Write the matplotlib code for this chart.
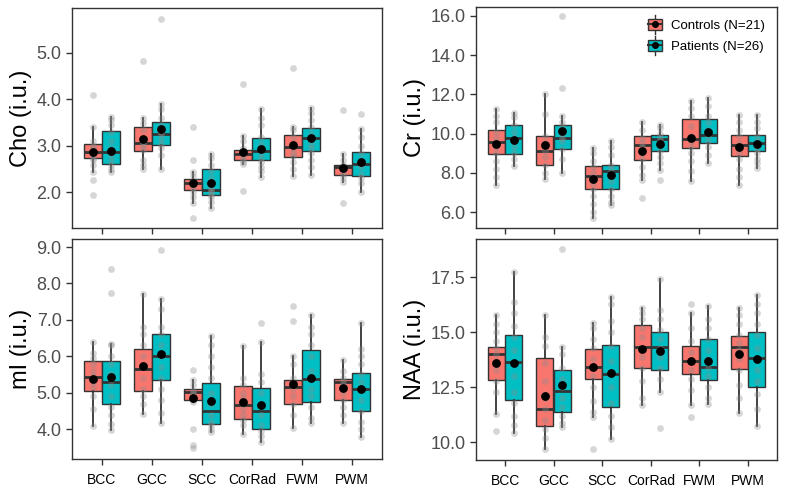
import numpy as np
import matplotlib.pyplot as plt
from matplotlib.patches import Patch, Rectangle
from matplotlib.lines import Line2D
from matplotlib.legend_handler import HandlerBase
from matplotlib.ticker import FormatStrFormatter

plt.rcParams['font.family'] = ['Liberation Sans', 'DejaVu Sans']

regions = ['BCC', 'GCC', 'SCC', 'CorRad', 'FWM', 'PWM']
groups = ['Controls (N=21)', 'Patients (N=26)']
colors = ['#F8766D', '#00BFC4']

# box stats per region: (whisker low, q1, median, q3, whisker high, mean)
cho_ctrl = [(2.44, 2.73, 2.87, 3.05, 3.40, 2.87), (2.51, 2.90, 3.06, 3.40, 3.61, 3.15),
            (1.77, 2.05, 2.21, 2.28, 2.44, 2.21), (2.62, 2.70, 2.83, 2.92, 3.22, 2.87),
            (2.35, 2.77, 2.97, 3.24, 3.40, 3.03), (2.23, 2.37, 2.55, 2.60, 2.83, 2.53)]
cho_pat = [(2.44, 2.62, 2.87, 3.31, 3.63, 2.90), (2.51, 3.02, 3.26, 3.51, 3.91, 3.36),
           (1.66, 1.94, 2.06, 2.51, 2.82, 2.21), (2.33, 2.69, 2.90, 3.17, 3.79, 2.94),
           (2.37, 2.90, 3.17, 3.39, 3.81, 3.17), (2.01, 2.35, 2.62, 2.87, 3.36, 2.65)]
cr_ctrl = [(7.40, 8.98, 9.56, 10.16, 11.23, 9.49), (7.69, 8.38, 9.10, 9.87, 12.00, 9.41),
           (5.69, 7.19, 7.82, 8.37, 9.27, 7.70), (7.65, 8.64, 9.41, 9.87, 10.58, 9.13),
           (7.57, 9.27, 9.70, 10.72, 11.66, 9.78), (7.40, 8.84, 9.41, 9.95, 10.97, 9.30)]
cr_pat = [(8.33, 8.98, 9.78, 10.46, 11.06, 9.66), (7.99, 9.24, 9.78, 10.43, 10.89, 10.12),
          (6.37, 7.19, 8.08, 8.40, 9.61, 7.87), (8.16, 9.10, 9.70, 9.95, 10.46, 9.49),
          (8.50, 9.53, 9.95, 10.75, 11.83, 10.09), (8.25, 9.10, 9.53, 9.92, 10.97, 9.49)]
mi_ctrl = [(4.09, 5.06, 5.43, 5.88, 6.40, 5.38), (4.41, 5.06, 5.64, 6.20, 7.70, 5.73),
           (4.75, 4.79, 5.02, 5.09, 5.36, 4.86), (3.86, 4.27, 4.66, 5.18, 6.29, 4.75),
           (4.04, 4.68, 5.15, 5.34, 6.00, 5.25), (4.18, 4.81, 5.29, 5.38, 5.91, 5.14)]
mi_pat = [(3.97, 4.70, 5.29, 5.88, 6.35, 5.43), (4.18, 5.34, 6.00, 6.61, 7.56, 6.05),
          (3.91, 4.13, 4.49, 5.26, 6.55, 4.76), (3.64, 3.99, 4.49, 5.13, 6.40, 4.65),
          (4.18, 4.75, 5.38, 6.17, 7.13, 5.40), (3.79, 4.50, 5.09, 5.55, 6.91, 5.09)]
naa_ctrl = [(11.30, 12.83, 14.02, 14.32, 15.79, 13.61), (9.70, 10.73, 11.52, 13.83, 15.79, 12.12),
            (11.14, 12.88, 13.41, 14.24, 15.42, 13.41), (11.70, 13.36, 14.32, 15.35, 16.09, 14.24),
            (11.70, 13.11, 13.71, 14.36, 15.86, 13.71), (11.32, 13.33, 14.32, 14.85, 16.09, 14.02)]
naa_pat = [(10.42, 11.92, 13.64, 14.88, 17.76, 13.60), (10.68, 11.39, 12.32, 13.29, 14.32, 12.62),
           (10.15, 11.62, 13.11, 14.42, 16.62, 13.15), (12.30, 13.29, 14.32, 15.03, 17.42, 14.17),
           (11.74, 12.85, 13.44, 14.70, 16.21, 13.71), (10.73, 12.53, 13.82, 15.03, 16.70, 13.79)]

# individual subject values
cho_ctrl_pts = [[4.10, 3.40, 3.10, 3.00, 2.95, 2.90, 2.85, 2.80, 2.75, 2.70, 2.60, 2.44, 2.26, 1.94],
                [4.82, 3.61, 3.50, 3.35, 3.10, 3.05, 3.00, 2.92, 2.70, 2.60, 2.51],
                [3.40, 2.69, 2.44, 2.35, 2.25, 2.20, 2.15, 2.10, 2.00, 1.90, 1.77, 1.45],
                [4.33, 3.22, 3.10, 2.95, 2.88, 2.83, 2.78, 2.72, 2.65, 2.62, 2.03],
                [4.68, 3.40, 3.35, 3.20, 3.05, 2.95, 2.85, 2.78, 2.65, 2.50, 2.35],
                [3.77, 2.83, 2.70, 2.60, 2.57, 2.52, 2.45, 2.40, 2.30, 2.23, 1.77]]
cho_pat_pts = [[3.63, 3.55, 3.45, 3.30, 3.10, 2.95, 2.87, 2.80, 2.70, 2.60, 2.50, 2.44],
               [5.73, 3.91, 3.80, 3.60, 3.45, 3.30, 3.25, 3.15, 3.05, 2.95, 2.80, 2.51],
               [2.82, 2.75, 2.60, 2.45, 2.30, 2.10, 2.05, 2.00, 1.95, 1.90, 1.80, 1.66],
               [3.79, 3.60, 3.45, 3.20, 3.05, 2.95, 2.85, 2.75, 2.65, 2.55, 2.45, 2.33],
               [3.81, 3.70, 3.55, 3.40, 3.25, 3.15, 3.05, 2.95, 2.85, 2.70, 2.55, 2.37],
               [3.68, 3.36, 3.20, 3.00, 2.85, 2.70, 2.62, 2.55, 2.40, 2.30, 2.20, 2.01]]
cr_ctrl_pts = [[11.23, 10.90, 10.60, 10.10, 9.80, 9.55, 9.30, 9.00, 8.60, 8.20, 7.80, 7.40],
               [12.00, 11.00, 9.90, 9.50, 9.10, 8.80, 8.40, 8.00, 7.69],
               [9.27, 9.00, 8.60, 8.30, 8.00, 7.80, 7.50, 7.20, 6.80, 6.40, 6.00, 5.69],
               [10.58, 10.20, 9.80, 9.50, 9.30, 9.00, 8.70, 8.30, 7.90, 7.65, 6.72],
               [11.66, 11.30, 10.90, 10.40, 9.90, 9.60, 9.30, 9.00, 8.60, 8.10, 7.57],
               [10.97, 10.60, 10.20, 9.90, 9.50, 9.30, 9.00, 8.70, 8.20, 7.80, 7.40]]
cr_pat_pts = [[11.06, 10.85, 10.45, 10.10, 9.80, 9.60, 9.30, 9.00, 8.70, 8.33],
              [15.97, 12.34, 10.89, 10.60, 10.40, 10.00, 9.80, 9.60, 9.20, 8.70, 7.99],
              [9.61, 9.30, 8.90, 8.40, 8.20, 8.00, 7.60, 7.20, 6.80, 6.50, 6.37],
              [10.46, 10.30, 10.00, 9.80, 9.60, 9.40, 9.10, 8.80, 8.50, 8.16, 7.65],
              [11.83, 11.40, 10.90, 10.60, 10.20, 9.90, 9.60, 9.30, 8.90, 8.50],
              [10.97, 10.60, 10.30, 9.90, 9.60, 9.40, 9.20, 9.00, 8.70, 8.50, 8.25]]
mi_ctrl_pts = [[6.40, 6.10, 5.95, 5.80, 5.60, 5.45, 5.30, 5.15, 4.90, 4.55, 4.09],
               [7.70, 6.80, 6.60, 6.30, 6.00, 5.70, 5.40, 5.10, 4.90, 4.70, 4.41],
               [5.61, 5.36, 5.20, 5.05, 5.00, 4.95, 4.85, 4.80, 4.75, 3.99, 3.56, 3.47],
               [6.29, 5.40, 5.20, 5.00, 4.85, 4.70, 4.55, 4.40, 4.25, 4.10, 3.86],
               [7.38, 6.97, 6.00, 5.80, 5.40, 5.25, 5.10, 4.90, 4.70, 4.40, 4.04],
               [5.91, 5.60, 5.40, 5.30, 5.20, 5.00, 4.80, 4.60, 4.40, 4.18]]
mi_pat_pts = [[8.41, 7.75, 6.35, 6.30, 6.00, 5.80, 5.50, 5.20, 4.90, 4.60, 4.40, 4.15, 3.97],
              [8.93, 7.56, 7.30, 6.80, 6.60, 6.30, 6.00, 5.70, 5.40, 5.10, 4.80, 4.45, 4.18],
              [6.55, 6.30, 6.00, 5.70, 5.40, 5.00, 4.70, 4.40, 4.20, 4.10, 4.00, 3.91],
              [6.91, 6.40, 5.50, 5.30, 5.00, 4.70, 4.40, 4.10, 3.95, 3.80, 3.64],
              [7.13, 6.80, 6.60, 6.30, 6.00, 5.60, 5.40, 5.10, 4.90, 4.60, 4.30, 4.18],
              [6.91, 6.20, 6.00, 5.80, 5.50, 5.30, 5.10, 4.80, 4.50, 4.20, 4.00, 3.79]]
naa_ctrl_pts = [[15.79, 15.40, 15.00, 14.60, 14.30, 14.00, 13.70, 13.30, 12.80, 12.30, 11.30, 10.50],
                [15.79, 14.80, 14.40, 13.60, 12.80, 12.00, 11.50, 11.00, 10.60, 10.20, 9.70],
                [15.42, 15.20, 14.70, 14.30, 13.80, 13.40, 13.00, 12.50, 11.90, 11.40, 11.14, 9.70],
                [16.09, 15.90, 15.60, 15.20, 14.80, 14.30, 13.90, 13.40, 12.80, 12.00, 11.70],
                [16.29, 15.86, 15.20, 14.60, 14.10, 13.70, 13.30, 12.90, 12.40, 11.70, 11.14],
                [16.09, 15.80, 15.40, 14.90, 14.50, 14.20, 13.80, 13.30, 12.60, 12.00, 11.32]]
naa_pat_pts = [[17.76, 16.40, 15.90, 15.30, 14.80, 14.20, 13.60, 13.00, 12.30, 11.80, 11.20, 10.80, 10.42],
               [18.79, 14.32, 14.00, 13.40, 12.90, 12.50, 12.00, 11.60, 11.20, 10.90, 10.68],
               [16.62, 16.30, 15.50, 15.00, 14.40, 13.70, 13.20, 12.50, 11.80, 11.20, 10.70, 10.15],
               [17.42, 16.00, 15.60, 15.10, 14.70, 14.30, 13.90, 13.40, 12.90, 12.30, 10.64],
               [16.21, 15.60, 15.20, 14.70, 14.20, 13.80, 13.40, 13.00, 12.50, 12.00, 11.74],
               [16.70, 16.30, 15.90, 15.40, 14.90, 14.30, 13.80, 13.30, 12.80, 12.20, 11.50, 10.73]]

panels = [
    ('Cho (i.u.)', cho_ctrl, cho_pat, cho_ctrl_pts, cho_pat_pts, (1.235, 5.965), [2, 3, 4, 5]),
    ('Cr (i.u.)', cr_ctrl, cr_pat, cr_ctrl_pts, cr_pat_pts, (5.19, 16.45), [6, 8, 10, 12, 14, 16]),
    ('mI (i.u.)', mi_ctrl, mi_pat, mi_ctrl_pts, mi_pat_pts, (3.18, 9.22), [4, 5, 6, 7, 8, 9]),
    ('NAA (i.u.)', naa_ctrl, naa_pat, naa_ctrl_pts, naa_pat_pts, (9.2, 19.24), [10, 12.5, 15, 17.5]),
]

edge = '#333333'


class BoxKey(HandlerBase):
    # legend key drawn like a small boxplot: whisker, box, median, mean dot
    def create_artists(self, legend, orig_handle, xdescent, ydescent, width, height, fontsize, trans):
        x0, y0 = -xdescent, -ydescent
        cx, cy = x0 + width / 2, y0 + height / 2
        whisk = Line2D([cx, cx], [y0 - 3, y0 + height + 3], color=edge, lw=1.0, transform=trans)
        rect = Rectangle((x0, y0), width, height, facecolor=orig_handle.get_facecolor(),
                         edgecolor=edge, lw=1.0, transform=trans)
        med = Line2D([x0, x0 + width], [cy, cy], color=edge, lw=1.5, transform=trans)
        dot = Line2D([cx], [cy], marker='o', ms=4, color='black', ls='', transform=trans)
        return [whisk, rect, med, dot]


W, H = 787, 495
# axes boxes in pixels: left, top, right, bottom
boxes = [(72, 8, 382, 228), (476, 7, 777, 228), (72, 239, 382, 459), (476, 239, 777, 460)]

fig = plt.figure(figsize=(W / 100, H / 100), dpi=100)
x = np.arange(1, len(regions) + 1)
dodge = 0.18
bw = 0.35

for i, (ylab, s_c, s_p, p_c, p_p, ylim, yt) in enumerate(panels):
    l, t, r, b = boxes[i]
    ax = fig.add_axes([l / W, 1 - b / H, (r - l) / W, (b - t) / H])
    for g, (stats, pts, col) in enumerate([(s_c, p_c, colors[0]), (s_p, p_p, colors[1])]):
        pos = x + (-dodge if g == 0 else dodge)
        bstats = [dict(whislo=s[0], q1=s[1], med=s[2], q3=s[3], whishi=s[4], fliers=[]) for s in stats]
        ax.bxp(bstats, positions=pos, widths=bw, patch_artist=True, showcaps=False,
               showfliers=False, manage_ticks=False,
               boxprops=dict(facecolor=col, edgecolor=edge, linewidth=1.0),
               whiskerprops=dict(color=edge, linewidth=1.3),
               medianprops=dict(color=edge, linewidth=2.0))
        for k in range(len(regions)):
            ax.scatter(np.full(len(pts[k]), pos[k]), pts[k], s=24, color='#8c8c8c',
                       alpha=0.35, linewidths=0, zorder=3)
        ax.scatter(pos, [s[5] for s in stats], s=28, color='black', zorder=4)
    ax.set_xlim(0.4, 6.6)
    ax.set_ylim(*ylim)
    ax.set_yticks(yt)
    ax.yaxis.set_major_formatter(FormatStrFormatter('%.1f'))
    ax.set_xticks(x)
    if i >= 2:
        ax.set_xticklabels(regions, fontsize=10, color='black')
    else:
        ax.set_xticklabels([])
    ax.set_ylabel(ylab, fontsize=17, labelpad=3)
    ax.tick_params(axis='y', labelsize=13, labelcolor='#4D4D4D', length=4, width=1, color=edge)
    ax.tick_params(axis='x', length=4, width=1, color=edge, pad=6)
    for sp in ax.spines.values():
        sp.set_color(edge)
        sp.set_linewidth(1.0)
    if i == 1:
        handles = [Patch(facecolor=c) for c in colors]
        ax.legend(handles, groups, handler_map={Patch: BoxKey()},
                  loc='upper right', frameon=False, fontsize=9.5, handlelength=1.1,
                  handleheight=0.9, handletextpad=0.7, borderaxespad=0.5, labelspacing=0.6)

fig.savefig('out.png', dpi=100)
